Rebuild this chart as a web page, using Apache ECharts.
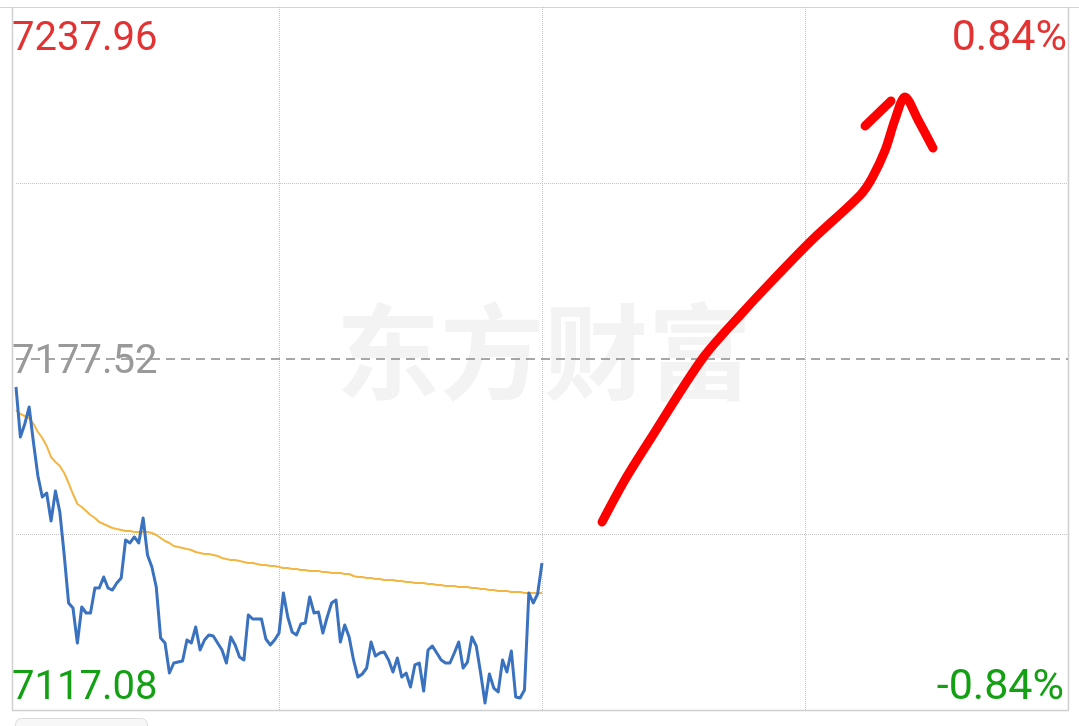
<!DOCTYPE html>
<html>
<head>
<meta charset="utf-8">
<script src="https://cdn.jsdelivr.net/npm/echarts@6/dist/echarts.min.js"></script>
<style>html,body{margin:0;padding:0;background:#fff}#c{width:1079px;height:726px}</style>
</head>
<body>
<div id="c"></div>
<script>
// ---- data ----
const prevClose = 7177.52;
const priceMax = 7237.96;
const priceMin = 7117.08;
const pctLabels = ['0.84%', '-0.84%'];
const priceLabels = ['7237.96', '7177.52', '7117.08'];
const totalMinutes = 240;
const watermark = '东方财富';

const price = [
7172.62,7164.02,7166.26,7169.18,7162.99,7157.32,7153.71,7154.39,7149.58,7154.74,
7151.13,7143.73,7135.48,7134.62,7128.60,7134.79,7133.76,7133.76,7138.06,7138.06,
7139.95,7138.06,7137.71,7138.92,7139.78,7146.31,7145.80,7146.83,7145.80,7150.09,
7143.73,7141.67,7138.23,7129.46,7128.60,7123.44,7125.16,7125.33,7125.51,7129.12,
7128.60,7131.35,7127.40,7129.12,7129.98,7129.80,7128.60,7127.40,7125.16,7129.63,
7128.26,7126.19,7125.68,7133.42,7132.73,7132.73,7132.73,7129.29,7128.26,7129.12,
7130.32,7137.20,7133.07,7130.49,7129.98,7131.87,7132.04,7136.51,7133.76,7133.93,
7130.32,7133.07,7135.48,7136.00,7128.77,7131.70,7129.63,7125.68,7122.75,7123.27,
7124.30,7128.77,7126.37,7126.88,7127.05,7125.68,7123.61,7126.02,7122.75,7123.44,
7121.03,7124.82,7125.16,7120.35,7127.40,7128.09,7126.88,7125.68,7125.16,7125.16,
7126.88,7128.77,7124.30,7125.33,7129.63,7128.09,7123.44,7118.28,7123.27,7120.86,
7120.18,7125.68,7123.61,7127.23,7119.32,7119.14,7120.52,7137.20,7135.48,7137.03,
7142.36];

const avgPrice = [
7168.67,7167.98,7167.63,7167.29,7166.26,7164.88,7163.85,7162.48,7160.58,7159.72,
7159.04,7157.83,7156.11,7154.22,7152.50,7151.99,7151.30,7150.61,7150.09,7149.41,
7149.06,7148.72,7148.38,7148.20,7148.03,7147.86,7147.86,7147.69,7147.69,7147.69,
7147.69,7147.52,7147.17,7146.66,7146.14,7145.80,7145.28,7145.11,7144.94,7144.76,
7144.59,7144.25,7144.08,7143.90,7143.90,7143.73,7143.56,7143.22,7143.04,7142.87,
7142.87,7142.70,7142.53,7142.36,7142.36,7142.18,7142.01,7142.01,7141.84,7141.84,
7141.67,7141.50,7141.50,7141.32,7141.32,7141.15,7141.15,7140.98,7140.98,7140.98,
7140.81,7140.81,7140.64,7140.64,7140.64,7140.47,7140.47,7140.12,7139.95,7139.95,
7139.78,7139.78,7139.61,7139.61,7139.43,7139.43,7139.43,7139.26,7139.26,7139.09,
7139.09,7138.92,7138.92,7138.92,7138.75,7138.75,7138.57,7138.57,7138.40,7138.40,
7138.40,7138.23,7138.23,7138.23,7138.06,7138.06,7137.89,7137.89,7137.71,7137.71,
7137.54,7137.54,7137.54,7137.37,7137.37,7137.37,7137.20,7137.20,7137.20,7137.20,
7137.20];

// hand-drawn red arrow annotation, in chart (minute, price) coordinates
const arrowStemX = [133.7,138.9,144.6,156.7,166.3,172.7,181.6,192.6,195.3,198.3,200.5,202.8,205.8,209.2];
const arrowStemY = [7149.41,7156.63,7163.51,7177.61,7185.86,7191.02,7197.90,7205.63,7208.56,7213.37,7218.53,7222.48,7218.53,7213.72];
const arrowHeadX = [193.7,199.6];
const arrowHeadY = [7217.50,7221.80];

// ---- chart ----
const chart = echarts.init(document.getElementById('c'), null, {renderer: 'canvas'});
const pair = (xs, ys) => xs.map((x, i) => [x, ys[i]]);
const q1 = priceMax - (priceMax - priceMin) / 4;
const q3 = priceMin + (priceMax - priceMin) / 4;
const dotted = {type: 'dotted', color: '#c4c4c4', width: 1};

const labelFont = 'Roboto, "Noto Sans", sans-serif';
const red = '#e23232', green = '#13a013', gray = '#999999';

chart.setOption({
  animation: false,
  backgroundColor: '#ffffff',
  grid: {left: 16, right: 11, top: 7, bottom: 16},
  xAxis: {type: 'value', min: 0, max: totalMinutes, show: false},
  yAxis: {type: 'value', min: priceMin, max: priceMax, show: false, scale: true},
  graphic: [
    {type: 'text', left: 336, top: 300, z: 0, silent: true,
     style: {text: watermark, font: 'bold 104px "Noto Sans CJK SC"', fill: '#f3f3f3'}},
    {type: 'line', z: 1, shape: {x1: 0, y1: 7.5, x2: 1079, y2: 7.5}, style: {stroke: '#d4d4d4', lineWidth: 1}},
    {type: 'line', z: 1, shape: {x1: 12.5, y1: 7, x2: 12.5, y2: 710}, style: {stroke: '#d0d0d0', lineWidth: 1.5}},
    {type: 'line', z: 1, shape: {x1: 1068.5, y1: 7, x2: 1068.5, y2: 710}, style: {stroke: '#d0d0d0', lineWidth: 1.5}},
    {type: 'line', z: 1, shape: {x1: 12, y1: 710.5, x2: 1069, y2: 710.5}, style: {stroke: '#d0d0d0', lineWidth: 1.5}},
    {type: 'rect', z: 1, shape: {x: 15.5, y: 718.5, width: 132, height: 20, r: 6},
     style: {fill: '#f7f7f7', stroke: '#dcdcdc', lineWidth: 1}},
    {type: 'text', z: 20, left: 12, top: 20, style: {text: priceLabels[0], font: '40px ' + labelFont, fill: red}},
    {type: 'text', z: 20, left: 12, top: 343, style: {text: priceLabels[1], font: '40px ' + labelFont, fill: gray}},
    {type: 'text', z: 20, left: 12, top: 669, style: {text: priceLabels[2], font: '40px ' + labelFont, fill: green}},
    {type: 'text', z: 20, right: 12, top: 18, style: {text: pctLabels[0], font: '43px ' + labelFont, fill: red}},
    {type: 'text', z: 20, right: 15, top: 667, style: {text: pctLabels[1], font: '43px ' + labelFont, fill: green}}
  ],
  series: [
    {
      type: 'line', name: 'grid', data: [], silent: true, z: 2,
      markLine: {
        silent: true, symbol: 'none', label: {show: false},
        data: [
          {xAxis: 60, lineStyle: dotted},
          {xAxis: 120, lineStyle: dotted},
          {xAxis: 180, lineStyle: dotted},
          {yAxis: q1, lineStyle: dotted},
          {yAxis: q3, lineStyle: dotted},
          {yAxis: prevClose, lineStyle: {type: [9, 6], color: '#8a8a8a', width: 1.6}}
        ]
      }
    },
    {
      type: 'line', name: 'avg', data: avgPrice.map((v, i) => [i, v]),
      showSymbol: false, symbol: 'none', z: 5,
      lineStyle: {color: '#f3b642', width: 2}
    },
    {
      type: 'line', name: 'price', data: price.map((v, i) => [i, v]),
      showSymbol: false, symbol: 'none', z: 6,
      lineStyle: {color: '#3a72bf', width: 3, join: 'round'}
    },
    {
      type: 'line', name: 'arrow', data: pair(arrowStemX, arrowStemY),
      showSymbol: false, symbol: 'none', smooth: 0.3, z: 10,
      lineStyle: {color: '#ff0000', width: 9, cap: 'round', join: 'round'}
    },
    {
      type: 'line', name: 'arrowHead', data: pair(arrowHeadX, arrowHeadY),
      showSymbol: false, symbol: 'none', z: 10,
      lineStyle: {color: '#ff0000', width: 9, cap: 'round', join: 'round'}
    }
  ]
});
</script>
</body>
</html>
